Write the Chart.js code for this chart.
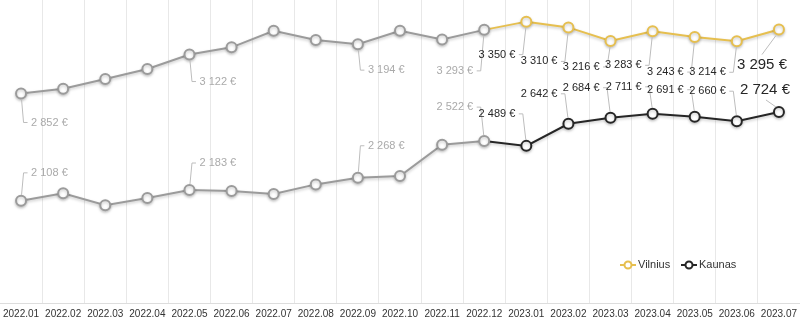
<!DOCTYPE html>
<html>
<head>
<meta charset="utf-8">
<script src="https://cdn.jsdelivr.net/npm/chart.js@4"></script>
<style>
    html, body { margin: 0; padding: 0; background: #ffffff; }
    #wrap { width: 800px; height: 323px; }
</style>
</head>
<body>
<div id="wrap"><canvas id="salaryChart"></canvas></div>
<script>
/* ------------------------------------------------------------
   DATA
------------------------------------------------------------ */
const months = [
    "2022.01", "2022.02", "2022.03", "2022.04", "2022.05", "2022.06",
    "2022.07", "2022.08", "2022.09", "2022.10", "2022.11", "2022.12",
    "2023.01", "2023.02", "2023.03", "2023.04", "2023.05", "2023.06", "2023.07"
];

const vilnius = [2852, 2885, 2952, 3022, 3122, 3172, 3287, 3223, 3194, 3287, 3227, 3293,
                 3350, 3310, 3216, 3283, 3243, 3214, 3295];

const kaunas = [2108, 2160, 2077, 2128, 2183, 2176, 2155, 2222, 2268, 2280, 2497, 2522,
                2489, 2642, 2684, 2711, 2691, 2660, 2724];

// which points get a value label
const labeledIdx = [0, 4, 8, 11, 12, 13, 14, 15, 16, 17, 18];

/* ------------------------------------------------------------
   STYLE
------------------------------------------------------------ */
const GREY = "#9b9b9b";
const GOLD = "#e6bf4f";
const DARK = "#262626";
const FONT = "'Liberation Sans', Arial, sans-serif";

// label placement: [side, vertical offset from point]
const labelLayout = {
    0: {
        0: ["right", 29], 4: ["right", 27], 8: ["right", 26], 11: ["left", 41],
        12: ["left", 33], 13: ["left", 34], 14: ["left", 26], 15: ["left", 34],
        16: ["left", 35], 17: ["left", 31], 18: ["below", 0]
    },
    1: {
        0: ["right", -28], 4: ["right", -27], 8: ["right", -32], 11: ["left", -34],
        12: ["left", -32], 13: ["left", -30], 14: ["left", -30], 15: ["left", -27],
        16: ["left", -27], 17: ["left", -30], 18: ["above", 0]
    }
};

function is2023(i) {
    return months[i].startsWith("2023");
}

function euro(v) {
    return String(v).replace(/\B(?=(\d{3})+(?!\d))/g, " ") + " €";
}

/* ------------------------------------------------------------
   PLUGIN: value labels with leader lines + legend
------------------------------------------------------------ */
const valueLabels = {
    id: "valueLabels",
    beforeDatasetsDraw(chart) {
        const ctx = chart.ctx;
        ctx.save();
        ctx.shadowColor = "rgba(0,0,0,0.22)";
        ctx.shadowBlur = 3;
        ctx.shadowOffsetY = 1.5;
    },
    afterDatasetsDraw(chart) {
        chart.ctx.restore();
    },
    afterDraw(chart) {
        const ctx = chart.ctx;
        ctx.save();

        chart.data.datasets.forEach((ds, d) => {
            const meta = chart.getDatasetMeta(d);
            labeledIdx.forEach(i => {
                const pt = meta.data[i];
                const px = pt.x, py = pt.y;
                const [side, dy] = labelLayout[d][i];
                const big = i === months.length - 1;
                const text = euro(ds.data[i]);

                ctx.font = (big ? "15px " : "11px ") + FONT;
                ctx.fillStyle = is2023(i) ? DARK : "#aaaaaa";
                ctx.strokeStyle = "#bdbdbd";
                ctx.lineWidth = 1;
                ctx.textBaseline = "middle";

                ctx.beginPath();
                if (side === "right") {
                    const ty = py + dy;
                    const sy = py + (dy > 0 ? 6 : -6);
                    ctx.moveTo(px + 0.5, sy);
                    ctx.lineTo(px + 2.5, ty);
                    ctx.lineTo(px + 6.5, ty);
                    ctx.stroke();
                    ctx.textAlign = "left";
                    ctx.fillText(text, px + 10, ty);
                } else if (side === "left") {
                    const ty = py + dy;
                    const sy = py + (dy > 0 ? 6 : -6);
                    ctx.moveTo(px - 0.5, sy);
                    ctx.lineTo(px - 3.5, ty);
                    ctx.lineTo(px - 7.5, ty);
                    ctx.stroke();
                    ctx.textAlign = "right";
                    ctx.fillText(text, px - 11, ty);
                } else if (side === "below") {
                    ctx.moveTo(px - 3, py + 6);
                    ctx.lineTo(px - 17, py + 25);
                    ctx.stroke();
                    ctx.textAlign = "center";
                    ctx.fillText(text, px - 17, py + 35);
                } else {
                    ctx.moveTo(px - 3, py - 5);
                    ctx.lineTo(px - 13, py - 12);
                    ctx.stroke();
                    ctx.textAlign = "center";
                    ctx.fillText(text, px - 14, py - 22);
                }
            });
        });

        // legend inside the plot, bottom right
        const items = [
            { name: chart.data.datasets[0].label, color: GOLD, x: 620 },
            { name: chart.data.datasets[1].label, color: DARK, x: 681 }
        ];
        const ly = 265;
        items.forEach(it => {
            ctx.strokeStyle = it.color;
            ctx.lineWidth = 2;
            ctx.beginPath();
            ctx.moveTo(it.x, ly);
            ctx.lineTo(it.x + 16, ly);
            ctx.stroke();
            ctx.beginPath();
            ctx.arc(it.x + 8, ly, 3.5, 0, Math.PI * 2);
            ctx.fillStyle = "#ffffff";
            ctx.fill();
            ctx.stroke();
            ctx.font = "11px " + FONT;
            ctx.fillStyle = "#333333";
            ctx.textAlign = "left";
            ctx.textBaseline = "middle";
            ctx.fillText(it.name, it.x + 18, ly);
        });

        ctx.restore();
    }
};

/* ------------------------------------------------------------
   BUILD CHART
------------------------------------------------------------ */
function makeDataset(label, values, color) {
    return {
        label,
        data: values,
        borderColor: GREY,
        borderWidth: 2,
        segment: {
            borderColor: c => is2023(c.p1DataIndex) ? color : GREY
        },
        pointRadius: 5,
        pointHoverRadius: 5,
        pointBorderWidth: 2,
        pointBackgroundColor: "#ffffff",
        pointBorderColor: months.map((m, i) => is2023(i) ? color : GREY),
        clip: false,
        tension: 0
    };
}

new Chart(document.getElementById("salaryChart"), {
    type: "line",
    data: {
        labels: months,
        datasets: [
            makeDataset("Vilnius", vilnius, GOLD),
            makeDataset("Kaunas", kaunas, DARK)
        ]
    },
    options: {
        responsive: true,
        maintainAspectRatio: false,
        animation: false,
        layout: { padding: 0, autoPadding: false },
        plugins: {
            legend: { display: false },
            tooltip: { enabled: false }
        },
        scales: {
            x: {
                offset: true,
                grid: {
                    offset: true,
                    color: "#e8e8e8",
                    drawTicks: false
                },
                border: { color: "#dddddd" },
                ticks: {
                    color: "#333333",
                    font: { family: FONT, size: 10 },
                    padding: 5,
                    maxRotation: 0,
                    autoSkip: false
                },
                afterFit: s => {
                    s.height = 20;
                    s.paddingLeft = 0;
                    s.paddingRight = 0;
                }
            },
            y: {
                display: false,
                min: 1400,
                max: 3500
            }
        }
    },
    plugins: [valueLabels]
});
</script>
</body>
</html>
